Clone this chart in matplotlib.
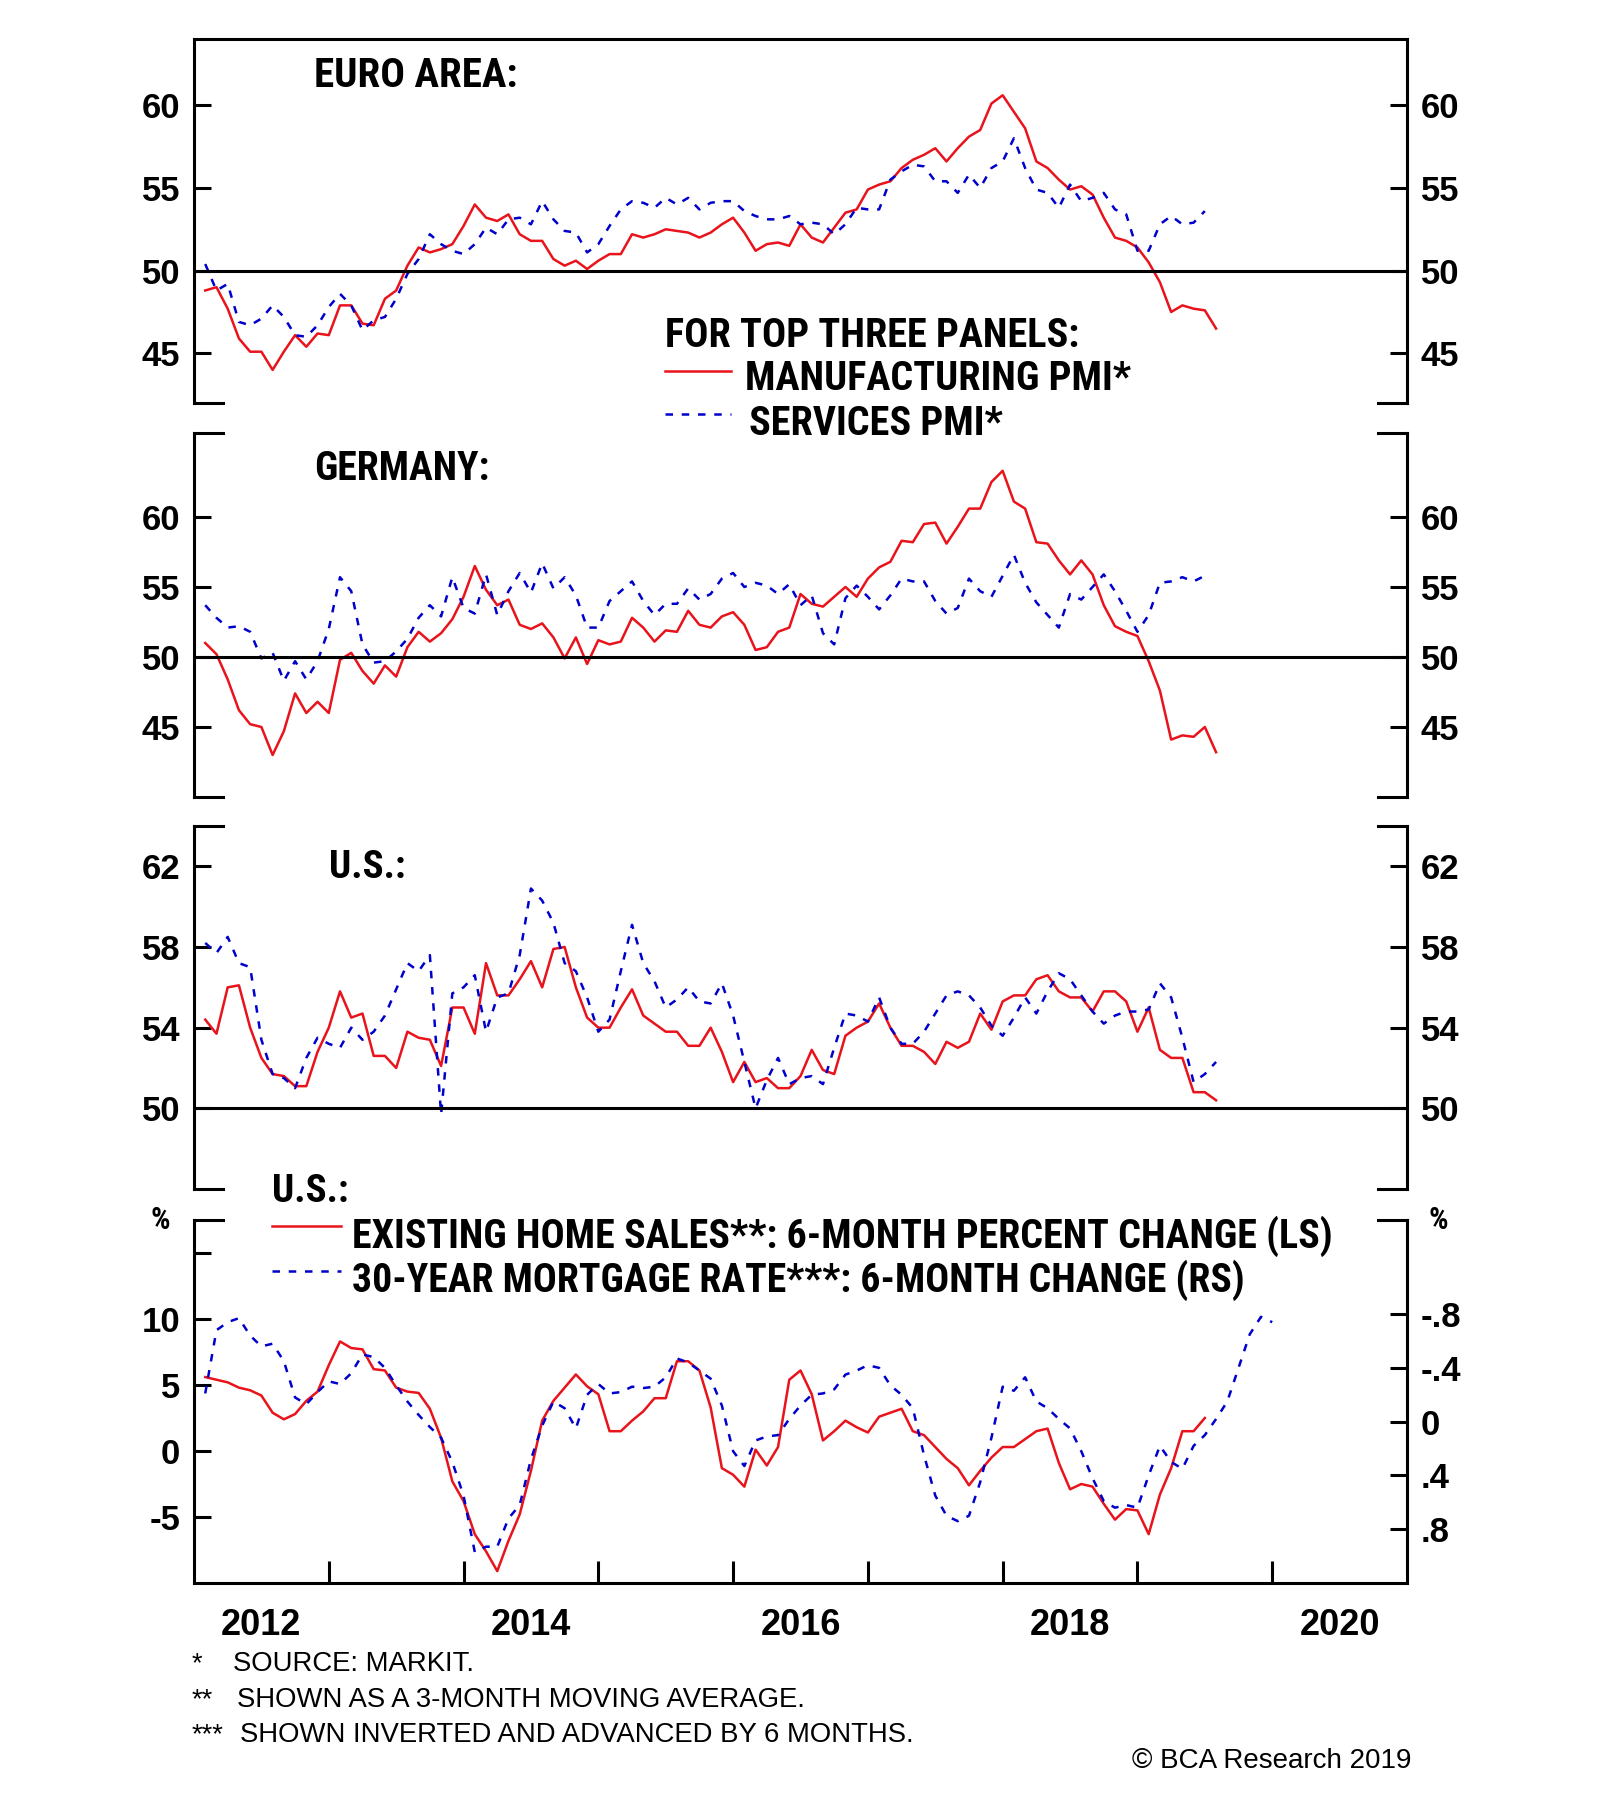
import numpy as np
import matplotlib
matplotlib.use('Agg')
import matplotlib.pyplot as plt
from matplotlib.lines import Line2D
from matplotlib import font_manager as fm

plt.rcParams['font.family'] = ['Liberation Sans', 'DejaVu Sans']
plt.rcParams['font.weight'] = 'bold'

RED = '#e8131b'
BLUE = '#0000cc'

# monthly data, first value = Jan 2012
euro_mfg = [48.8, 49.0, 47.7, 45.9, 45.1, 45.1, 44.0, 45.1, 46.1, 45.4, 46.2, 46.1,
            47.9, 47.9, 46.8, 46.7, 48.3, 48.8, 50.3, 51.4, 51.1, 51.3, 51.6, 52.7,
            54.0, 53.2, 53.0, 53.4, 52.2, 51.8, 51.8, 50.7, 50.3, 50.6, 50.1, 50.6,
            51.0, 51.0, 52.2, 52.0, 52.2, 52.5, 52.4, 52.3, 52.0, 52.3, 52.8, 53.2,
            52.3, 51.2, 51.6, 51.7, 51.5, 52.8, 52.0, 51.7, 52.6, 53.5, 53.7, 54.9,
            55.2, 55.4, 56.2, 56.7, 57.0, 57.4, 56.6, 57.4, 58.1, 58.5, 60.1, 60.6,
            59.6, 58.6, 56.6, 56.2, 55.5, 54.9, 55.1, 54.6, 53.2, 52.0, 51.8, 51.4,
            50.5, 49.3, 47.5, 47.9, 47.7, 47.6, 46.5]
euro_svc = [50.4, 48.8, 49.2, 46.9, 46.7, 47.1, 47.9, 47.2, 46.1, 46.0, 46.7, 47.8,
            48.6, 47.9, 46.4, 47.0, 47.2, 48.3, 49.8, 50.7, 52.2, 51.6, 51.2, 51.0,
            51.6, 52.6, 52.2, 53.1, 53.2, 52.8, 54.2, 53.1, 52.4, 52.3, 51.1, 51.6,
            52.7, 53.7, 54.2, 54.1, 53.8, 54.4, 54.0, 54.4, 53.7, 54.1, 54.2, 54.2,
            53.6, 53.3, 53.1, 53.1, 53.3, 52.8, 52.9, 52.8, 52.2, 52.8, 53.8, 53.7,
            53.7, 55.5, 56.0, 56.4, 56.3, 55.4, 55.4, 54.7, 55.8, 55.0, 56.2, 56.6,
            58.0, 56.2, 54.9, 54.7, 53.8, 55.2, 54.2, 54.4, 54.7, 53.7, 53.4, 51.2,
            51.2, 52.8, 53.3, 52.8, 52.9, 53.6]

ger_mfg = [51.0, 50.2, 48.4, 46.2, 45.2, 45.0, 43.0, 44.7, 47.4, 46.0, 46.8, 46.0,
           49.8, 50.3, 49.0, 48.1, 49.4, 48.6, 50.7, 51.8, 51.1, 51.7, 52.7, 54.3,
           56.5, 54.8, 53.7, 54.1, 52.3, 52.0, 52.4, 51.4, 49.9, 51.4, 49.5, 51.2,
           50.9, 51.1, 52.8, 52.1, 51.1, 51.9, 51.8, 53.3, 52.3, 52.1, 52.9, 53.2,
           52.3, 50.5, 50.7, 51.8, 52.1, 54.5, 53.8, 53.6, 54.3, 55.0, 54.3, 55.6,
           56.4, 56.8, 58.3, 58.2, 59.5, 59.6, 58.1, 59.3, 60.6, 60.6, 62.5, 63.3,
           61.1, 60.6, 58.2, 58.1, 56.9, 55.9, 56.9, 55.9, 53.7, 52.2, 51.8, 51.5,
           49.7, 47.6, 44.1, 44.4, 44.3, 45.0, 43.2]
ger_svc = [53.7, 52.8, 52.1, 52.2, 51.8, 49.9, 50.3, 48.3, 49.7, 48.4, 49.7, 52.0,
           55.7, 54.7, 50.9, 49.6, 49.7, 50.4, 51.3, 52.8, 53.7, 52.9, 55.7, 53.5,
           53.1, 55.9, 53.0, 54.7, 56.0, 54.6, 56.7, 54.9, 55.7, 54.4, 52.1, 52.1,
           54.0, 54.7, 55.4, 54.0, 53.0, 53.8, 53.8, 54.9, 54.1, 54.5, 55.6, 56.0,
           55.0, 55.3, 55.1, 54.5, 55.2, 53.7, 54.4, 51.7, 50.9, 54.2, 55.1, 54.3,
           53.4, 54.4, 55.6, 55.4, 55.4, 54.0, 53.1, 53.5, 55.6, 54.7, 54.3, 55.8,
           57.3, 55.3, 53.9, 53.0, 52.1, 54.5, 54.1, 55.0, 55.9, 54.7, 53.3, 51.8,
           53.0, 55.3, 55.4, 55.7, 55.4, 55.8]

us_mfg = [54.4, 53.7, 56.0, 56.1, 54.0, 52.5, 51.7, 51.6, 51.1, 51.1, 52.8, 54.0,
          55.8, 54.5, 54.7, 52.6, 52.6, 52.0, 53.8, 53.5, 53.4, 52.1, 55.0, 55.0,
          53.7, 57.2, 55.6, 55.6, 56.4, 57.3, 56.0, 57.9, 58.0, 56.0, 54.5, 54.0,
          54.0, 55.0, 55.9, 54.6, 54.2, 53.8, 53.8, 53.1, 53.1, 54.0, 52.8, 51.3,
          52.3, 51.3, 51.5, 51.0, 51.0, 51.6, 52.9, 51.9, 51.7, 53.6, 54.0, 54.3,
          55.2, 54.0, 53.1, 53.1, 52.8, 52.2, 53.3, 53.0, 53.3, 54.7, 53.9, 55.3,
          55.6, 55.6, 56.4, 56.6, 55.8, 55.5, 55.5, 54.8, 55.8, 55.8, 55.3, 53.8,
          55.0, 52.9, 52.5, 52.5, 50.8, 50.8, 50.4]
us_svc = [58.2, 57.7, 58.5, 57.2, 57.0, 53.4, 51.7, 51.5, 51.0, 52.5, 53.5, 53.2,
          53.0, 54.0, 53.4, 53.8, 54.6, 55.9, 57.2, 56.8, 57.6, 49.7, 55.7, 56.0,
          56.6, 53.8, 55.5, 55.7, 57.6, 60.9, 60.3, 59.2, 57.2, 56.8, 55.5, 53.8,
          54.4, 56.8, 59.1, 57.2, 56.3, 55.0, 55.4, 56.0, 55.3, 55.2, 56.2, 54.6,
          52.3, 50.0, 51.4, 52.5, 51.2, 51.5, 51.6, 51.2, 53.0, 54.7, 54.6, 54.3,
          55.5, 54.0, 53.2, 53.2, 53.8, 54.7, 55.6, 55.8, 55.6, 55.0, 54.1, 53.6,
          54.5, 55.5, 54.7, 55.8, 56.7, 56.4, 55.6, 54.8, 54.2, 54.6, 54.8, 54.8,
          54.9, 56.2, 55.5, 53.5, 51.3, 51.7, 52.3]

home_sales = [5.6, 5.4, 5.2, 4.8, 4.6, 4.2, 2.9, 2.4, 2.8, 3.8, 4.5, 6.5,
              8.3, 7.8, 7.7, 6.2, 6.1, 4.8, 4.5, 4.4, 3.2, 1.0, -2.3, -3.8,
              -6.3, -7.6, -9.1, -6.8, -4.8, -1.5, 2.3, 3.8, 4.8, 5.8, 4.9, 4.3,
              1.5, 1.5, 2.3, 3.0, 4.0, 4.0, 6.8, 6.8, 6.1, 3.3, -1.3, -1.8,
              -2.7, 0.1, -1.1, 0.3, 5.4, 6.1, 4.3, 0.8, 1.5, 2.3, 1.8, 1.4,
              2.6, 2.9, 3.2, 1.5, 1.2, 0.3, -0.6, -1.3, -2.6, -1.5, -0.5, 0.3,
              0.3, 0.9, 1.5, 1.7, -0.9, -2.9, -2.5, -2.7, -4.0, -5.2, -4.4, -4.5,
              -6.3, -3.3, -1.3, 1.5, 1.5, 2.5]
mortgage_chg = [-0.21, -0.68, -0.74, -0.77, -0.64, -0.56, -0.58, -0.45, -0.18, -0.13, -0.22, -0.30,
                -0.28, -0.36, -0.50, -0.48, -0.40, -0.27, -0.15, -0.05, 0.04, 0.12, 0.30, 0.55,
                0.97, 0.93, 0.93, 0.72, 0.62, 0.28, 0.03, -0.15, -0.10, 0.05, -0.20, -0.28,
                -0.21, -0.22, -0.26, -0.25, -0.26, -0.33, -0.47, -0.44, -0.38, -0.32, -0.12, 0.22,
                0.33, 0.14, 0.11, 0.10, -0.02, -0.12, -0.20, -0.21, -0.24, -0.35, -0.38, -0.42,
                -0.40, -0.27, -0.20, -0.10, 0.25, 0.55, 0.70, 0.74, 0.70, 0.45, 0.12, -0.26,
                -0.23, -0.33, -0.15, -0.10, -0.02, 0.05, 0.22, 0.42, 0.59, 0.64, 0.62, 0.64,
                0.40, 0.18, 0.30, 0.35, 0.18, 0.10, -0.02, -0.15, -0.40, -0.65, -0.78, -0.74]

years = [2012, 2014, 2016, 2018, 2020]


def dates(vals):
    return 2012 + (np.arange(len(vals)) + 1) / 12.0


# condensed bold font for the labels if one is installed
def pick_font():
    fonts = fm.fontManager.ttflist
    def bold(f):
        return f.weight in (600, 700, 800, 'bold', 'semibold') and 'italic' not in f.style
    for name, k in [('Liberation Sans Narrow', 1.04), ('Roboto Condensed', 1.0),
                    ('Open Sans Condensed', 1.0)]:
        for f in fonts:
            if f.name == name and bold(f):
                return fm.FontProperties(fname=f.fname), k
    for f in fonts:
        if f.name in ('Noto Sans', 'Open Sans', 'Roboto') and bold(f) and 'Condensed' in f.fname:
            return fm.FontProperties(fname=f.fname), 0.95
    return fm.FontProperties(family=['Liberation Sans', 'DejaVu Sans'], weight='bold'), 0.9


TXT, K = pick_font()
PLAIN = fm.FontProperties(family=['Liberation Sans', 'DejaVu Sans'], weight='normal')

W, H = 1600, 1795
fig = plt.figure(figsize=(W / 100, H / 100), dpi=100)
x0, x1 = 194, 1407
panels = [(39, 403), (433, 797), (826, 1189), (1220, 1583)]

LW = 2.2
STUB = 0.024


def make_axes(top, bot):
    return fig.add_axes([x0 / W, 1 - bot / H, (x1 - x0) / W, (bot - top) / H])


def frame(ax, top_full=False, bottom_full=False):
    for s in ['left', 'right']:
        ax.spines[s].set_linewidth(LW)
    ax.spines['top'].set_visible(top_full)
    ax.spines['bottom'].set_visible(bottom_full)
    ax.spines['top'].set_linewidth(LW)
    ax.spines['bottom'].set_linewidth(LW)
    ends = []
    if not top_full:
        ends.append(1)
    if not bottom_full:
        ends.append(0)
    for yy in ends:
        for xs in ([0, STUB], [1 - STUB, 1]):
            ax.plot(xs, [yy, yy], color='black', lw=LW, transform=ax.transAxes,
                    clip_on=False, solid_capstyle='projecting')
    ax.set_xlim(2012, 2021)


def pmi_panel(ax, mfg, svc, ylim, yticks):
    ax.plot(dates(mfg), mfg, color=RED, lw=1.8)
    ax.plot(dates(svc), svc, color=BLUE, lw=1.8, linestyle=(0, (3, 3.5)))
    ax.axhline(50, color='black', lw=LW)
    ax.set_ylim(*ylim)
    ax.set_yticks(yticks)
    ax.set_xticks([])
    ax.tick_params(axis='y', direction='in', length=12, width=LW, labelsize=25,
                   pad=10, left=True, right=True, labelleft=True, labelright=True)


ax1 = make_axes(*panels[0])
frame(ax1, top_full=True)
pmi_panel(ax1, euro_mfg, euro_svc, (42, 64), [45, 50, 55, 60])

ax2 = make_axes(*panels[1])
frame(ax2)
pmi_panel(ax2, ger_mfg, ger_svc, (40, 66), [45, 50, 55, 60])

ax3 = make_axes(*panels[2])
frame(ax3)
pmi_panel(ax3, us_mfg, us_svc, (46, 64), [50, 54, 58, 62])

ax4 = make_axes(*panels[3])
frame(ax4, bottom_full=True)
ax4.plot(dates(home_sales), home_sales, color=RED, lw=1.8)
ax4.set_ylim(-10, 17.5)
ax4.set_yticks([-5, 0, 5, 10, 15])
ax4.set_yticklabels(['-5', '0', '5', '10', ''])
ax4.tick_params(axis='y', direction='in', length=12, width=LW, labelsize=25, pad=10)
ax4.set_xticks(range(2013, 2021))
ax4.set_xticklabels([])
ax4.set_xticks([y + 0.5 for y in years], minor=True)
ax4.set_xticklabels([str(y) for y in years], minor=True)
ax4.tick_params(axis='x', which='major', direction='in', length=16, width=LW)
ax4.tick_params(axis='x', which='minor', length=0, labelsize=26, pad=18)

ax4r = ax4.twinx()
ax4r.plot(dates(mortgage_chg), mortgage_chg, color=BLUE, lw=1.8, linestyle=(0, (3, 3.5)))
ax4r.set_ylim(1.2, -1.5)
ax4r.set_yticks([-0.8, -0.4, 0, 0.4, 0.8])
ax4r.set_yticklabels(['-.8', '-.4', '0', '.4', '.8'])
ax4r.tick_params(axis='y', direction='in', length=12, width=LW, labelsize=25, pad=10)
for s in ax4r.spines.values():
    s.set_visible(False)
ax4r.set_xlim(2012, 2021)


def ftext(x, y, s, size=29, plain=False, **kw):
    if plain:
        fp = PLAIN.copy()
        fp.set_size(size)
    else:
        fp = TXT.copy()
        fp.set_size(size * K)
    fig.text(x / W, 1 - y / H, s, fontproperties=fp, va='center', **kw)


def sample(xa, xb, y, color, dashed=False):
    ls = (0, (3, 3.5)) if dashed else '-'
    fig.add_artist(Line2D([xa / W, xb / W], [1 - y / H, 1 - y / H], color=color,
                          lw=1.8, linestyle=ls, transform=fig.transFigure))


ftext(314, 76, 'EURO AREA:', size=29.5)
ftext(665, 336, 'FOR TOP THREE PANELS:')
sample(665, 731, 371, RED)
ftext(745, 379, 'MANUFACTURING PMI*')
sample(665, 731, 414, BLUE, dashed=True)
ftext(749, 424, 'SERVICES PMI*')
ftext(314, 469, 'GERMANY:', size=28.6)
ftext(329, 867, 'U.S.:', size=28)
ftext(272, 1192, 'U.S.:', size=28)
sample(272, 341, 1226, RED)
ftext(352, 1236, 'EXISTING HOME SALES**: 6-MONTH PERCENT CHANGE (LS)', size=28.8)
sample(272, 341, 1271, BLUE, dashed=True)
ftext(352, 1280, '30-YEAR MORTGAGE RATE***: 6-MONTH CHANGE (RS)', size=28.6)
ftext(160, 1220, '%', size=22, ha='center')
ftext(1438, 1220, '%', size=22, ha='center')

ftext(192, 1664, '*', size=19.8, plain=True)
ftext(233, 1664, 'SOURCE: MARKIT.', size=19.8, plain=True)
ftext(192, 1700, '**', size=19.8, plain=True)
ftext(237, 1700, 'SHOWN AS A 3-MONTH MOVING AVERAGE.', size=19.8, plain=True)
ftext(192, 1735, '***', size=19.8, plain=True)
ftext(240, 1735, 'SHOWN INVERTED AND ADVANCED BY 6 MONTHS.', size=19.8, plain=True)
ftext(1411, 1761, '\u00a9 BCA Research 2019', size=20, plain=True, ha='right')

fig.savefig('out.png', dpi=100)
